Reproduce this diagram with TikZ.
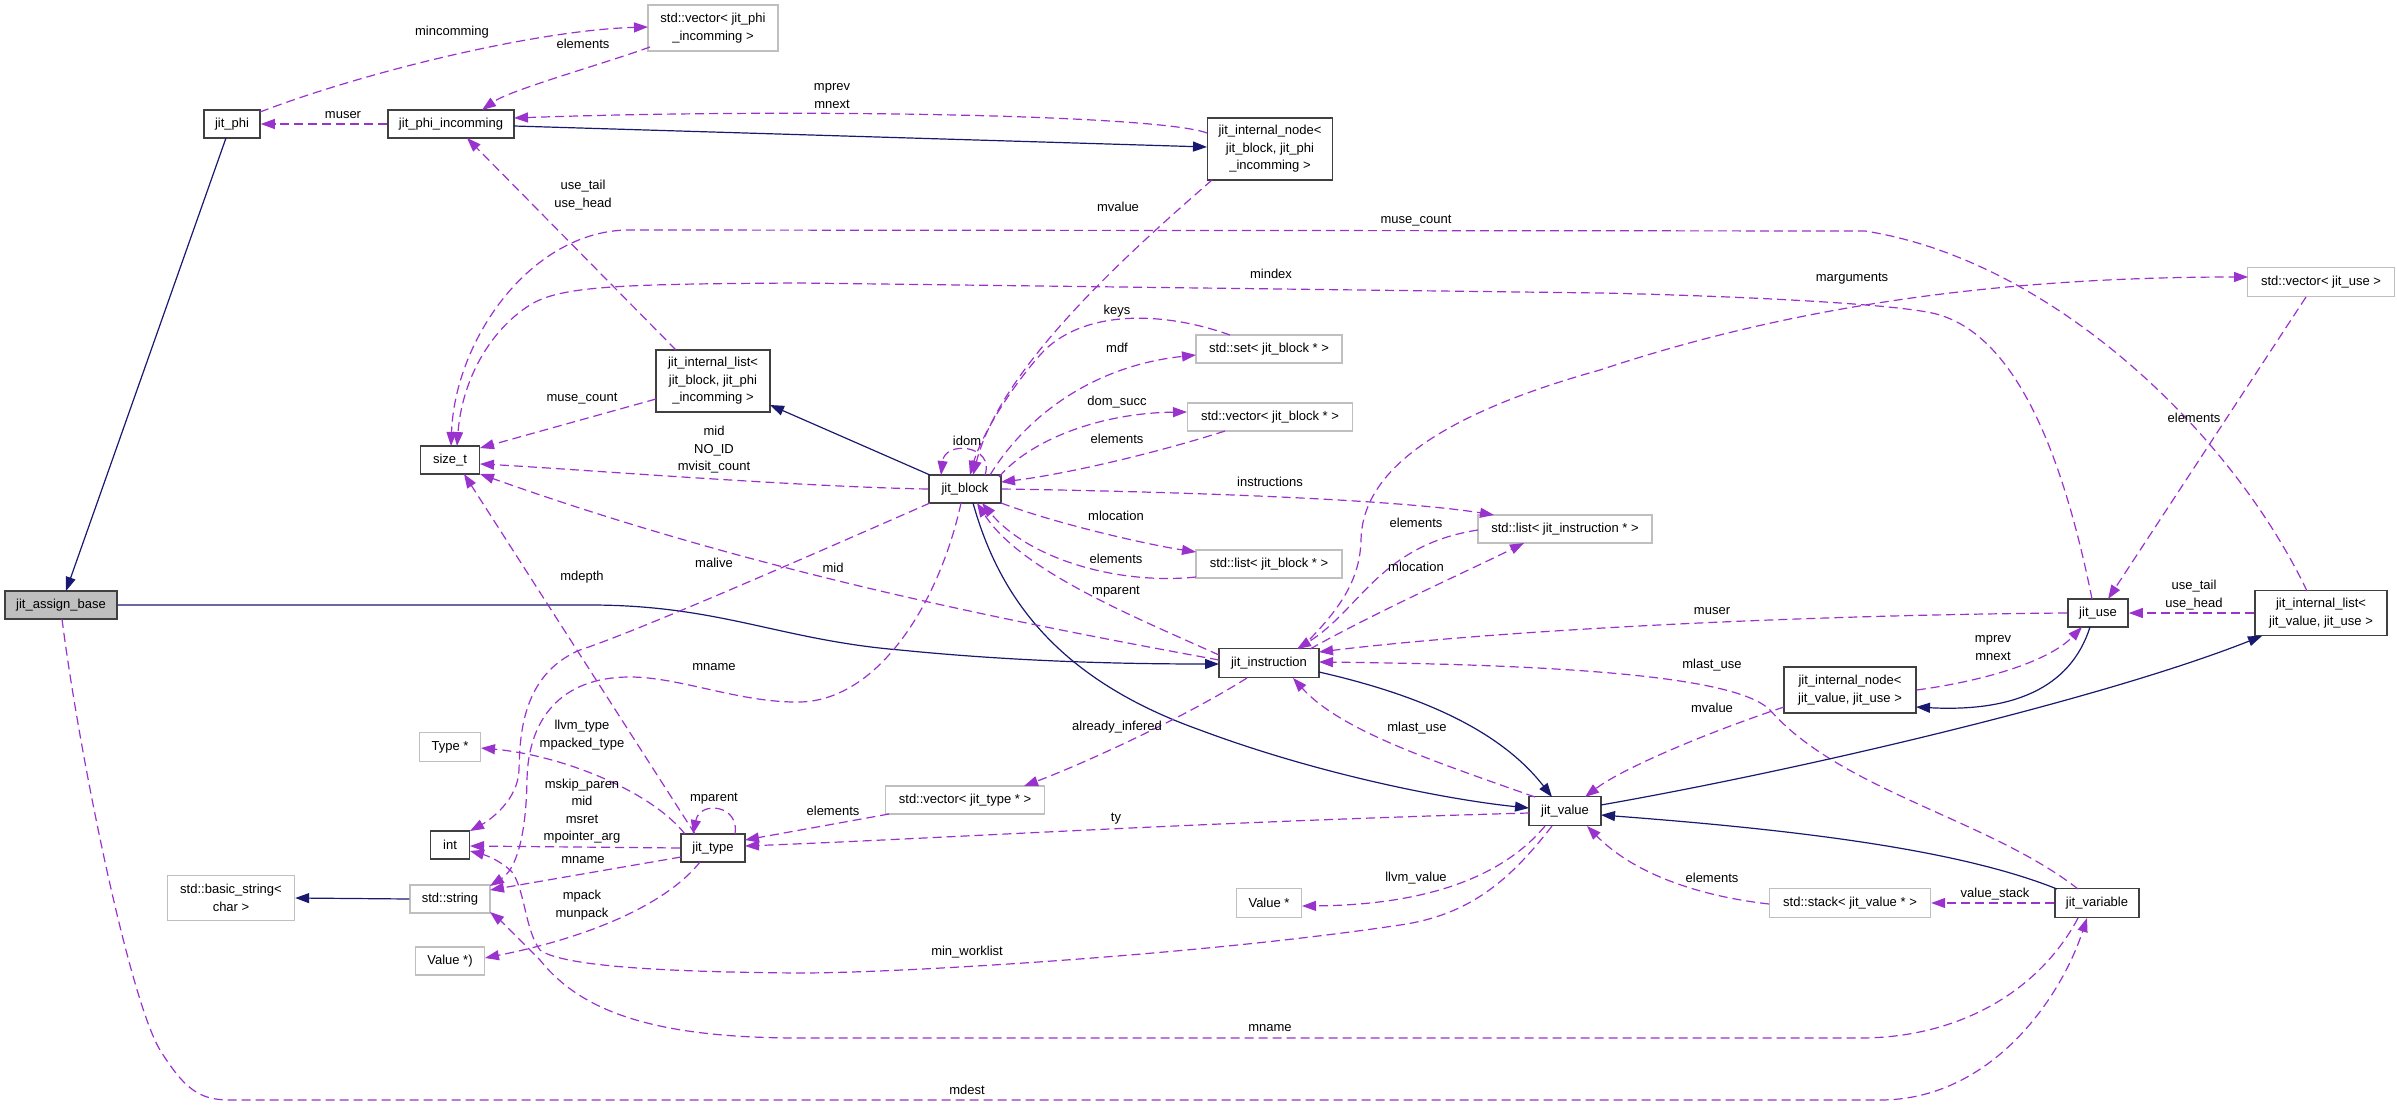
\documentclass[tikz,border=0pt]{standalone}
\usepackage{fontspec}
\setmainfont{Liberation Sans}
\usetikzlibrary{arrows.meta,calc}
\definecolor{depc}{HTML}{9A32CD}
\definecolor{inhc}{HTML}{191970}
\definecolor{bdark}{HTML}{404040}
\definecolor{bgray}{HTML}{BFBFBF}
\newcommand{\lbf}{\fontsize{13}{17.5}\selectfont}
\begin{document}
\begin{tikzpicture}[x=1pt,y=-1pt,
  box/.style={draw=bdark,line width=1.6pt,fill=white,inner sep=0pt,font=\lbf,align=center},
  gbox/.style={box,draw=bgray,line width=1.4pt},
  lbl/.style={font=\lbf,align=center,inner sep=0pt},
  depline/.style={draw=depc,dash pattern=on 9pt off 5pt,line width=1.2pt,-{Triangle[length=14pt,width=10pt]}},
  inhline/.style={draw=inhc,line width=1.2pt,-{Triangle[length=14pt,width=10pt]}}]
\useasboundingbox (0,0) rectangle (2397,1105);
\fill[white] (0,0) rectangle (2397,1105);
% nodes
\node[gbox,minimum width=130pt,minimum height=46pt] (vphi) at (713,28) {std::vector< jit\_phi\\\_incomming >};
\node[box,minimum width=56pt,minimum height=28pt] (phi) at (232,124) {jit\_phi};
\node[box,minimum width=126pt,minimum height=28pt] (phiinc) at (451,124) {jit\_phi\_incomming};
\node[box,minimum width=114pt,minimum height=62pt] (ilblock) at (713,381) {jit\_internal\_list<\\jit\_block, jit\_phi\\\_incomming >};
\node[box,minimum width=125pt,minimum height=62pt] (inblock) at (1270,149) {jit\_internal\_node<\\jit\_block, jit\_phi\\\_incomming >};
\node[gbox,minimum width=146pt,minimum height=28pt] (setb) at (1269,349) {std::set< jit\_block * >};
\node[gbox,minimum width=147pt,minimum height=29pt] (vuse) at (2321,282) {std::vector< jit\_use >};
\node[box,minimum width=59pt,minimum height=28pt] (sizet) at (450,460) {size\_t};
\node[box,fill=bgray,minimum width=112pt,minimum height=28pt] (assign) at (61,605) {jit\_assign\_base};
\node[gbox,minimum width=61pt,minimum height=29pt] (typep) at (450,747) {Type *};
\node[box,minimum width=39pt,minimum height=28pt] (nint) at (450,845) {int};
\node[gbox,minimum width=80pt,minimum height=28pt] (str) at (450,899) {std::string};
\node[gbox,minimum width=69pt,minimum height=28pt] (valp) at (450,961) {Value *)};
\node[box,minimum width=64pt,minimum height=28pt] (jtype) at (713,848) {jit\_type};
\node[gbox,minimum width=127pt,minimum height=45pt] (bstr) at (231,898) {std::basic\_string<\\char >};
\node[box,minimum width=72pt,minimum height=28pt] (block) at (965,489) {jit\_block};
\node[gbox,minimum width=165pt,minimum height=28pt] (vblock) at (1270,417) {std::vector< jit\_block * >};
\node[gbox,minimum width=174pt,minimum height=28pt] (linst) at (1565,529) {std::list< jit\_instruction * >};
\node[gbox,minimum width=146pt,minimum height=28pt] (lblock) at (1269,564) {std::list< jit\_block * >};
\node[box,minimum width=100pt,minimum height=29pt] (inst) at (1269,663) {jit\_instruction};
\node[box,minimum width=72pt,minimum height=29pt] (value) at (1565,811) {jit\_value};
\node[box,minimum width=60pt,minimum height=28pt] (juse) at (2098,613) {jit\_use};
\node[box,minimum width=132pt,minimum height=45pt] (iluse) at (2321,613) {jit\_internal\_list<\\jit\_value, jit\_use >};
\node[box,minimum width=132pt,minimum height=46pt] (inuse) at (1850,690) {jit\_internal\_node<\\jit\_value, jit\_use >};
\node[gbox,minimum width=159pt,minimum height=28pt] (vtype) at (965,800) {std::vector< jit\_type * >};
\node[gbox,minimum width=65pt,minimum height=29pt] (valuep) at (1269,903) {Value *};
\node[gbox,minimum width=161pt,minimum height=29pt] (stack) at (1850,903) {std::stack< jit\_value * >};
\node[box,minimum width=84pt,minimum height=29pt] (var) at (2097,903) {jit\_variable};
% edges
\draw[depline] ($(phi)+(28,-12)$) .. controls (370,70) and (540,30) .. ($(vphi)+(-65,-1)$);
\draw[depline] ($(vphi)+(-63,19)$) .. controls (600,65) and (510,90) .. ($(phiinc)+(31,-14)$);
\draw[depline] (phiinc.west) -- (phi.east);
\draw[inhline] ($(phiinc)+(63,2)$) -- ($(inblock)+(-63,-2)$);
\draw[depline] ($(inblock)+(-63,-16)$) .. controls (1160,115) and (800,108) .. ($(phiinc)+(63,-6)$);
\draw[depline] ($(ilblock)+(-37,-31)$) -- ($(phiinc)+(16,14)$);
\draw[inhline] ($(block)+(-35,-14)$) -- ($(ilblock)+(57,24)$);
\draw[depline] ($(ilblock)+(-57,18)$) -- ($(sizet)+(30,-12)$);
\draw[depline] (block.west) .. controls (800,487) and (560,468) .. ($(sizet)+(30,4)$);
\draw[depline] ($(iluse)+(-14,-22)$) .. controls (2230,430) and (2050,260) .. (1865,231) -- (627,230) .. controls (530,232) and (455,340) .. ($(sizet)+(1,-14)$);
\draw[depline] ($(juse)+(-6,-14)$) .. controls (2060,440) and (2010,330) .. (1932,313) .. controls (1880,302) and (1700,295) .. (1600,293) -- (800,283) .. controls (620,284) and (560,286) .. (530,305) .. controls (490,330) and (462,380) .. ($(sizet)+(7,-14)$);
\draw[depline] ($(block)+(20,-14)$) .. controls (995,445) and (945,440) .. ($(block)+(-24,-14)$);
\draw[depline] ($(setb)+(-39,-14)$) .. controls (1160,310) and (1080,310) .. (1040,355) .. controls (1005,395) and (980,440) .. ($(block)+(5,-14)$);
\draw[depline] ($(block)+(25,-14)$) .. controls (1030,410) and (1100,365) .. ($(setb)+(-73,6)$);
\draw[depline] ($(block)+(34,-12)$) .. controls (1030,440) and (1100,413) .. ($(vblock)+(-83,-5)$);
\draw[depline] ($(vblock)+(-45,14)$) .. controls (1150,455) and (1060,475) .. ($(block)+(36,-7)$);
\draw[depline] (block.east) .. controls (1200,492) and (1400,500) .. ($(linst)+(-71,-14)$);
\draw[depline] ($(block)+(36,14)$) .. controls (1060,525) and (1150,545) .. ($(lblock)+(-73,-12)$);
\draw[depline] ($(lblock)+(-73,13)$) .. controls (1120,585) and (1030,560) .. ($(block)+(17,14)$);
\draw[depline] ($(inst)+(-50,-8)$) .. controls (1130,615) and (1020,570) .. ($(block)+(12,14)$);
\draw[inhline] ($(block)+(8,14)$) .. controls (1000,600) and (1060,680) .. (1200,730) .. controls (1320,775) and (1450,800) .. ($(value)+(-36,-3)$);
\draw[inhline] (assign.east) -- (590,605) .. controls (720,605) and (780,640) .. (900,650) .. controls (1000,660) and (1100,664) .. ($(inst)+(-50,1)$);
\draw[inhline] ($(phi)+(-6,14)$) -- ($(assign)+(5,-14)$);
\draw[inhline] ($(inst)+(50,9)$) .. controls (1420,695) and (1500,730) .. ($(value)+(-13,-14)$);
\draw[depline] ($(value)+(-30,-14)$) .. controls (1430,760) and (1340,730) .. ($(inst)+(24,15)$);
\draw[depline] ($(var)+(-19,-14)$) .. controls (1990,820) and (1840,790) .. (1770,710) .. controls (1740,680) and (1600,665) .. ($(inst)+(50,-1)$);
\draw[depline] (juse.west) .. controls (1800,615) and (1500,630) .. ($(inst)+(50,-11)$);
\draw[depline] ($(inst)+(31,-14)$) .. controls (1340,610) and (1360,580) .. (1361,540) .. controls (1362,480) and (1420,420) .. (1600,370) .. controls (1750,320) and (1950,277) .. ($(vuse)+(-73,-5)$);
\draw[depline] ($(linst)+(-87,1)$) .. controls (1380,545) and (1360,610) .. ($(inst)+(28,-14)$);
\draw[depline] ($(inst)+(41,-14)$) .. controls (1380,610) and (1470,570) .. ($(linst)+(-41,14)$);
\draw[depline] ($(inst)+(-50,-3)$) .. controls (1000,620) and (750,570) .. ($(sizet)+(30,14)$);
\draw[depline] ($(block)+(-35,14)$) .. controls (800,560) and (640,630) .. (580,650) .. controls (520,675) and (520,740) .. (519,770) .. controls (518,800) and (490,820) .. ($(nint)+(20,-14)$);
\draw[depline] ($(block)+(-4,14)$) .. controls (940,600) and (880,700) .. (800,702) .. controls (740,703) and (680,677) .. (630,677) .. controls (560,677) and (528,720) .. (527,780) .. controls (526,840) and (515,870) .. ($(str)+(40,-13)$);
\draw[depline] ($(jtype)+(-18,-14)$) -- ($(sizet)+(14,14)$);
\draw[depline] ($(jtype)+(-28,-14)$) .. controls (650,790) and (560,755) .. ($(typep)+(31,1)$);
\draw[depline] ($(jtype)+(22,-14)$) .. controls (740,805) and (700,800) .. ($(jtype)+(-20,-14)$);
\draw[depline] (jtype.west) -- ($(nint)+(20,1)$);
\draw[depline] ($(jtype)+(-32,9)$) -- ($(str)+(40,-9)$);
\draw[depline] ($(jtype)+(-13,14)$) .. controls (670,900) and (600,935) .. ($(valp)+(35,-3)$);
\draw[depline] ($(value)+(-36,2)$) .. controls (1200,822) and (950,838) .. ($(jtype)+(32,-2)$);
\draw[depline] ($(vtype)+(-76,14)$) -- ($(jtype)+(32,-8)$);
\draw[depline] ($(inst)+(-22,15)$) .. controls (1180,720) and (1080,765) .. ($(vtype)+(59,-14)$);
\draw[depline] ($(value)+(-20,15)$) .. controls (1500,880) and (1420,905) .. ($(valuep)+(33,3)$);
\draw[depline] ($(value)+(-13,15)$) .. controls (1510,880) and (1470,915) .. (1400,925) .. controls (1200,955) and (900,973) .. (800,973) .. controls (650,972) and (560,965) .. (540,950) .. controls (525,930) and (525,890) .. (512,872) .. controls (500,860) and (485,855) .. ($(nint)+(20,6)$);
\draw[depline] ($(stack)+(-81,1)$) .. controls (1690,895) and (1630,870) .. ($(value)+(22,15)$);
\draw[depline] (var.west) -- (stack.east);
\draw[inhline] ($(var)+(-40,-14)$) .. controls (1960,850) and (1800,830) .. ($(value)+(36,4)$);
\draw[inhline] ($(value)+(36,-6)$) .. controls (1800,770) and (2100,700) .. ($(iluse)+(-59,23)$);
\draw[depline] ($(inuse)+(-66,17)$) .. controls (1700,735) and (1620,770) .. ($(value)+(20,-14)$);
\draw[depline] ($(inblock)+(-58,31)$) .. controls (1120,260) and (1000,370) .. ($(block)+(8,-14)$);
\draw[inhline] ($(juse)+(-8,14)$) .. controls (2070,690) and (2010,712) .. ($(inuse)+(66,17)$);
\draw[depline] (inuse.east) .. controls (1990,680) and (2050,660) .. ($(juse)+(-16,14)$);
\draw[depline] (iluse.west) -- (juse.east);
\draw[depline] ($(vuse)+(-15,15)$) -- ($(juse)+(10,-14)$);
\draw[depline] ($(assign)+(1,14)$) .. controls (80,760) and (130,1000) .. (160,1050) .. controls (185,1090) and (200,1100) .. (230,1100) -- (1880,1100) .. controls (1990,1100) and (2060,1000) .. ($(var)+(-10,15)$);
\draw[depline] ($(var)+(-19,15)$) .. controls (2040,990) and (1960,1038) .. (1860,1038) -- (800,1038) .. controls (650,1038) and (580,1010) .. (540,960) .. controls (515,935) and (500,920) .. ($(str)+(40,13)$);
\draw[inhline] (str.west) -- (bstr.east);
% labels
\node[lbl] (l1) at (452,32) {mincomming};
\node[lbl] (l2) at (583,44) {elements};
\node[lbl] (l3) at (343,115) {muser};
\node[lbl] (l4) at (832,96) {mprev\\mnext};
\node[lbl] (l5) at (583,195) {use\_tail\\use\_head};
\node[lbl] (l6) at (1118,207) {mvalue};
\node[lbl] (l7) at (1416,221) {muse\_count};
\node[lbl] (l8) at (1271,274) {mindex};
\node[lbl] (l9) at (1852,279) {marguments};
\node[lbl] (l10) at (1117,311) {keys};
\node[lbl] (l11) at (1117,348) {mdf};
\node[lbl] (l12) at (582,399) {muse\_count};
\node[lbl] (l13) at (1117,402) {dom\_succ};
\node[lbl] (l14) at (2194,418) {elements};
\node[lbl] (l15) at (1117,439) {elements};
\node[lbl] (l16) at (967,441) {idom};
\node[lbl] (l17) at (714,450) {mid\\NO\_ID\\mvisit\_count};
\node[lbl] (l18) at (1270,482) {instructions};
\node[lbl] (l19) at (1116,516) {mlocation};
\node[lbl] (l20) at (1416,523) {elements};
\node[lbl] (l21) at (1116,559) {elements};
\node[lbl] (l22) at (714,563) {malive};
\node[lbl] (l23) at (833,568) {mid};
\node[lbl] (l24) at (1416,567) {mlocation};
\node[lbl] (l25) at (582,577) {mdepth};
\node[lbl] (l26) at (1116,592) {mparent};
\node[lbl] (l27) at (2194,595) {use\_tail\\use\_head};
\node[lbl] (l28) at (1712,611) {muser};
\node[lbl] (l29) at (1993,648) {mprev\\mnext};
\node[lbl] (l30) at (1712,665) {mlast\_use};
\node[lbl] (l31) at (714,667) {mname};
\node[lbl] (l32) at (1712,708) {mvalue};
\node[lbl] (l33) at (1117,727) {already\_infered};
\node[lbl] (l34) at (1417,728) {mlast\_use};
\node[lbl] (l35) at (582,735) {llvm\_type\\mpacked\_type};
\node[lbl] (l36) at (714,799) {mparent};
\node[lbl] (l37) at (582,811) {mskip\_paren\\mid\\msret\\mpointer\_arg};
\node[lbl] (l38) at (833,811) {elements};
\node[lbl] (l39) at (1116,819) {ty};
\node[lbl] (l40) at (583,860) {mname};
\node[lbl] (l41) at (1416,878) {llvm\_value};
\node[lbl] (l42) at (1712,878) {elements};
\node[lbl] (l43) at (1995,894) {value\_stack};
\node[lbl] (l44) at (582,905) {mpack\\munpack};
\node[lbl] (l45) at (967,952) {min\_worklist};
\node[lbl] (l46) at (1270,1028) {mname};
\node[lbl] (l47) at (967,1090) {mdest};
\end{tikzpicture}
\end{document}
